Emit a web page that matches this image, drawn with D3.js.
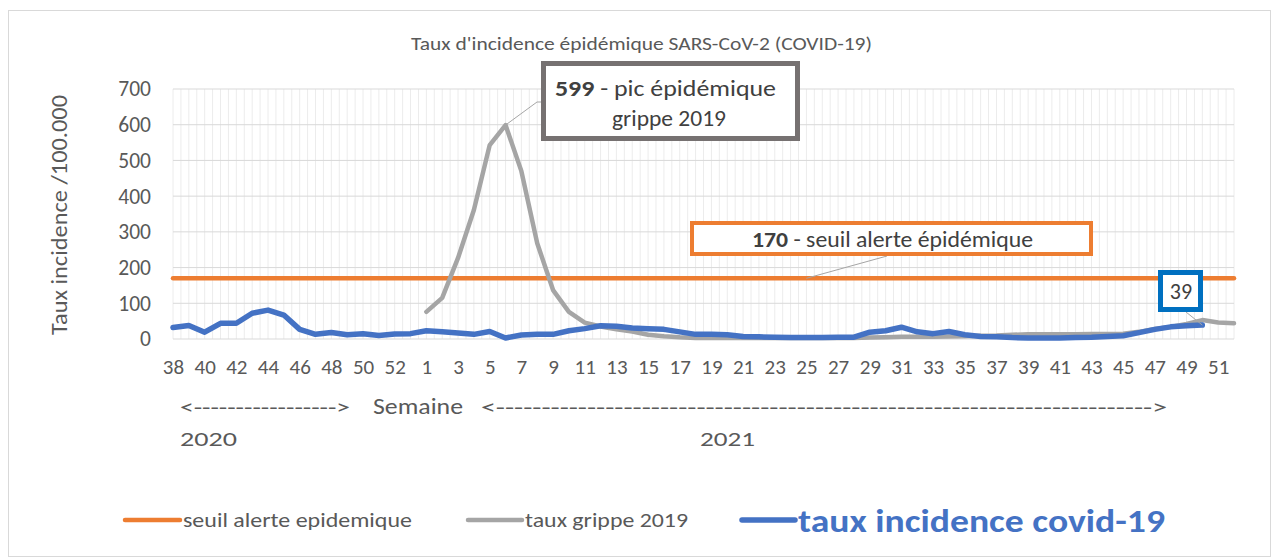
<!DOCTYPE html>
<html>
<head>
<meta charset="utf-8">
<script src="https://cdn.jsdelivr.net/npm/d3@7"></script>
<style>
  html, body { margin: 0; padding: 0; background: #fff; }
  svg { display: block; font-family: Carlito, Lato, "Open Sans", sans-serif; }
</style>
</head>
<body>
<svg id="chart" width="1277" height="560"></svg>
<script>
// ---- data ----
const weekLabels = [
  38,39,40,41,42,43,44,45,46,47,48,49,50,51,52,53,
  1,2,3,4,5,6,7,8,9,10,11,12,13,14,15,16,17,18,19,20,21,22,23,24,25,26,
  27,28,29,30,31,32,33,34,35,36,37,38,39,40,41,42,43,44,45,46,47,48,49,50,51,52
];
const seuilValues = [
  170,170,170,170,170,170,170,170,170,170,170,170,170,170,170,170,
  170,170,170,170,170,170,170,170,170,170,170,170,170,170,170,170,170,170,170,170,170,170,170,170,170,170,
  170,170,170,170,170,170,170,170,170,170,170,170,170,170,170,170,170,170,170,170,170,170,170,170,170,170
];
const grippeValues = [
  null,null,null,null,null,null,null,null,null,null,null,null,null,null,null,null,
  76,115,227,361,543,599,470,268,137,76,46,35,27,21,12,8,5,3,3,3,3,3,3,3,3,3,
  3,3,4,5,6,6,6,7,8,9,10,12,13,13,13,13,14,14,15,20,28,34,42,53,46,44
];
const covidValues = [
  32,38,19,44,44,72,81,67,27,13,18,12,15,10,14,15,
  23,20,17,13,21,3,11,13,13,23,29,37,36,31,29,27,20,13,13,12,7,6,5,4,4,4,
  5,5,19,23,33,20,15,21,12,7,6,4,3,3,3,4,5,7,9,18,27,34,37,39,null,null
];
const yTicks = [0,100,200,300,400,500,600,700];
const titleText = "Taux d'incidence épidémique SARS-CoV-2 (COVID-19)";
const yTitle = "Taux incidence /100.000";
const seriesNames = ["seuil alerte epidemique", "taux grippe 2019", "taux incidence covid-19"];

// ---- layout ----
const svg = d3.select("#chart");
const pL = 173, pR = 1234, pT = 89, pB = 339;
const idx = d3.range(weekLabels.length);
const x = d3.scalePoint().domain(idx).range([pL, pR]);
const y = d3.scaleLinear().domain([0, 700]).range([pB, pT]);
const step = x.step();
const textCol = "#595959";
const cOrange = "#ED7D31", cGrey = "#A5A5A5", cBlue = "#4472C4";

function txt(px, py, s, size, len, opts = {}) {
  const t = svg.append("text").attr("x", px).attr("y", py).attr("font-size", size)
    .attr("fill", opts.fill || textCol).text(s);
  if (len) t.attr("textLength", len).attr("lengthAdjust", "spacingAndGlyphs");
  if (opts.weight) t.attr("font-weight", opts.weight);
  if (opts.dy) t.attr("dy", opts.dy);
  return t;
}

// outer frame
svg.append("rect").attr("x", 8.5).attr("y", 10.5).attr("width", 1262).attr("height", 546)
  .attr("fill", "#fff").attr("stroke", "#d9d9d9").attr("stroke-width", 1);

// title
txt(411, 50, titleText, 18.5, 461);

// vertical (minor) gridlines every half category
const vGrid = d3.range(0, (weekLabels.length - 1) * 2 + 1).map(k => pL + k * step / 2);
svg.append("g").selectAll("line").data(vGrid).join("line")
  .attr("x1", d => d).attr("x2", d => d).attr("y1", pT).attr("y2", pB)
  .attr("stroke", "#ececec").attr("stroke-width", 1);

// horizontal gridlines
svg.append("g").selectAll("line").data(yTicks).join("line")
  .attr("x1", pL).attr("x2", pR).attr("y1", d => y(d)).attr("y2", d => y(d))
  .attr("stroke", "#d9d9d9").attr("stroke-width", 1);

// y axis
const yAxis = svg.append("g").attr("transform", `translate(${pL - 22},0)`)
  .call(d3.axisLeft(y).tickValues(yTicks).tickSize(0).tickPadding(0));
yAxis.select(".domain").remove();
yAxis.selectAll("text").attr("font-size", 21.5).attr("fill", textCol)
  .attr("font-family", "Carlito, Lato, sans-serif");

// x axis
const xAxis = svg.append("g").attr("transform", `translate(0,${pB + 20})`)
  .call(d3.axisBottom(x).tickValues(idx.filter(i => i % 2 === 0))
    .tickFormat(i => weekLabels[i]).tickSize(0).tickPadding(0));
xAxis.select(".domain").remove();
xAxis.selectAll("text").attr("font-size", 21).attr("fill", textCol)
  .attr("font-family", "Carlito, Lato, sans-serif").attr("dy", "0.72em");

// y title
svg.append("text").attr("transform", "translate(67,215) rotate(-90)")
  .attr("text-anchor", "middle").attr("font-size", 23).attr("fill", textCol)
  .attr("textLength", 240).attr("lengthAdjust", "spacingAndGlyphs").text(yTitle);

// week row
const rowY = 414;
txt(180, rowY, "<----------------->", 20, 170);
txt(373, rowY, "Semaine", 22.5, 90);
txt(481, rowY, "<------------------------------------------------------------------------>", 20, 686);
txt(180, 446, "2020", 21, 57);
txt(700, 446, "2021", 21, 55);

// lines
const line = d3.line().defined(d => d[1] != null).x(d => x(d[0])).y(d => y(d[1]));
function drawSeries(vals, color, w) {
  svg.append("path").datum(vals.map((v, i) => [i, v]))
    .attr("d", line).attr("fill", "none").attr("stroke", color)
    .attr("stroke-width", w).attr("stroke-linejoin", "round").attr("stroke-linecap", "round");
}
drawSeries(seuilValues, cOrange, 4.5);
drawSeries(grippeValues, cGrey, 4.5);
drawSeries(covidValues, cBlue, 5.5);

// ---- callouts ----
const boxText = "#404040";
// grippe peak
const peakI = grippeValues.indexOf(d3.max(grippeValues));
svg.append("polyline")
  .attr("points", `${x(peakI)},${y(grippeValues[peakI])} 537,102 543,102`)
  .attr("fill", "none").attr("stroke", cGrey).attr("stroke-width", 1);
svg.append("rect").attr("x", 543.5).attr("y", 63.5).attr("width", 254).attr("height", 75)
  .attr("fill", "#fff").attr("stroke", "#767171").attr("stroke-width", 5);
const t1 = txt(555, 96, "", 22.5, 221, {fill: boxText});
t1.append("tspan").attr("font-weight", "bold").text(grippeValues[peakI]);
t1.append("tspan").text(" - pic  épidémique");
txt(612, 126, "grippe 2019", 22.5, 114, {fill: boxText});

// seuil
const seuilI = 40;
svg.append("line").attr("x1", x(seuilI)).attr("y1", y(seuilValues[seuilI]))
  .attr("x2", 887).attr("y2", 256).attr("stroke", cGrey).attr("stroke-width", 1);
svg.append("rect").attr("x", 692).attr("y", 223).attr("width", 399).attr("height", 31)
  .attr("fill", "#fff").attr("stroke", cOrange).attr("stroke-width", 4);
const t2 = txt(752, 247, "", 21.5, 281, {fill: boxText});
t2.append("tspan").attr("font-weight", "bold").text(seuilValues[seuilI]);
t2.append("tspan").text(" - seuil alerte épidémique");

// covid last
const lastI = 65;
svg.append("line").attr("x1", x(lastI)).attr("y1", y(covidValues[lastI]))
  .attr("x2", 1186).attr("y2", 312).attr("stroke", cGrey).attr("stroke-width", 1);
svg.append("rect").attr("x", 1160.5).attr("y", 272.5).attr("width", 40).attr("height", 37)
  .attr("fill", "#fff").attr("stroke", "#0070C0").attr("stroke-width", 5);
svg.append("text").attr("x", 1181).attr("y", 299).attr("text-anchor", "middle")
  .attr("font-size", 22).attr("fill", boxText).text(covidValues[lastI]);

// ---- legend ----
const legY = 520;
const leg = [
  {x1: 125, x2: 180, tx: 183, color: cOrange, w: 4.5, name: seriesNames[0], size: 21, len: 229, weight: null, fill: textCol},
  {x1: 468, x2: 522, tx: 525, color: cGrey, w: 4.5, name: seriesNames[1], size: 21, len: 163, weight: null, fill: textCol},
  {x1: 742, x2: 795, tx: 798, color: cBlue, w: 5.5, name: seriesNames[2], size: 33, len: 367, weight: "bold", fill: cBlue}
];
leg.forEach(l => {
  svg.append("line").attr("x1", l.x1).attr("x2", l.x2).attr("y1", legY).attr("y2", legY)
    .attr("stroke", l.color).attr("stroke-width", l.w).attr("stroke-linecap", "round");
  txt(l.tx, legY, l.name, l.size, l.len, {fill: l.fill, weight: l.weight, dy: "0.35em"});
});
</script>
</body>
</html>
